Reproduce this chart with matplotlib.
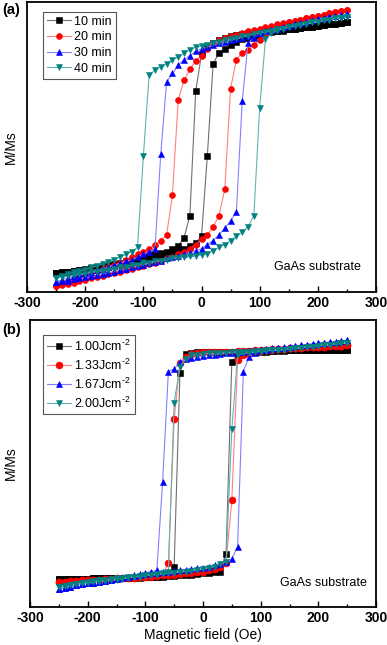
import matplotlib
matplotlib.use("Agg")
import matplotlib.pyplot as plt

plt.rcParams["font.family"] = ["Liberation Sans", "DejaVu Sans"]
plt.rcParams["mathtext.fontset"] = "custom"
plt.rcParams["mathtext.rm"] = "Liberation Sans"
plt.rcParams["mathtext.default"] = "regular"

# field grid of the measurement (Oe)
FIELD_UP = list(range(-250, 251, 10))
FIELD_DOWN = FIELD_UP[::-1]

# ---- panel (a): deposition time ----
LABELS_A = ["10 min", "20 min", "30 min", "40 min"]
# descending branch, listed from +250 to -250 Oe
A10_DOWN = [0.91, 0.905, 0.90, 0.895, 0.89, 0.885, 0.88, 0.875, 0.87, 0.865,
            0.86, 0.855, 0.85, 0.845, 0.84, 0.84, 0.835, 0.83, 0.825, 0.82,
            0.81, 0.80, 0.78, 0.76, 0.73, 0.68, 0.41, -0.49, -0.65, -0.71,
            -0.73, -0.75, -0.76, -0.765, -0.775, -0.785, -0.80, -0.81, -0.82, -0.83,
            -0.84, -0.85, -0.855, -0.86, -0.87, -0.875, -0.88, -0.89, -0.895, -0.90,
            -0.905]
# ascending branch, listed from -250 to +250 Oe
A10_UP = [-0.905, -0.90, -0.895, -0.89, -0.885, -0.88, -0.875, -0.87, -0.865, -0.86,
          -0.855, -0.85, -0.845, -0.84, -0.835, -0.83, -0.82, -0.81, -0.795, -0.78,
          -0.765, -0.75, -0.73, -0.71, -0.685, -0.64, -0.06, 0.61, 0.69, 0.72,
          0.75, 0.77, 0.79, 0.80, 0.81, 0.82, 0.83, 0.84, 0.845, 0.85,
          0.86, 0.865, 0.87, 0.875, 0.88, 0.885, 0.89, 0.895, 0.90, 0.905,
          0.91]
A20_DOWN = [1.00, 0.99, 0.985, 0.975, 0.965, 0.955, 0.95, 0.94, 0.93, 0.92,
            0.915, 0.905, 0.895, 0.885, 0.875, 0.865, 0.855, 0.845, 0.835, 0.82,
            0.81, 0.795, 0.78, 0.76, 0.72, 0.67, 0.63, 0.57, 0.49, 0.35,
            -0.34, -0.63, -0.67, -0.70, -0.73, -0.75, -0.77, -0.79, -0.81, -0.83,
            -0.845, -0.86, -0.875, -0.89, -0.90, -0.915, -0.93, -0.945, -0.96, -0.98,
            -1.00]
A20_UP = [-1.00, -0.99, -0.985, -0.975, -0.965, -0.955, -0.945, -0.935, -0.925, -0.915,
          -0.905, -0.895, -0.885, -0.875, -0.865, -0.855, -0.84, -0.83, -0.82, -0.80,
          -0.79, -0.77, -0.755, -0.73, -0.70, -0.66, -0.63, -0.57, -0.49, -0.30,
          0.43, 0.64, 0.69, 0.71, 0.75, 0.78, 0.82, 0.85, 0.88, 0.90,
          0.915, 0.92, 0.93, 0.94, 0.95, 0.955, 0.965, 0.975, 0.985, 0.99,
          1.00]
A30_DOWN = [0.97, 0.965, 0.955, 0.95, 0.94, 0.935, 0.925, 0.915, 0.905, 0.895,
            0.885, 0.875, 0.865, 0.855, 0.845, 0.835, 0.825, 0.815, 0.80, 0.79,
            0.78, 0.77, 0.76, 0.745, 0.73, 0.72, 0.70, 0.67, 0.64, 0.60,
            0.54, 0.48, -0.04, -0.73, -0.75, -0.77, -0.79, -0.81, -0.82, -0.835,
            -0.85, -0.86, -0.875, -0.885, -0.895, -0.905, -0.915, -0.93, -0.94, -0.955,
            -0.97]
A30_UP = [-0.97, -0.965, -0.96, -0.95, -0.945, -0.935, -0.93, -0.92, -0.91, -0.905,
          -0.895, -0.885, -0.875, -0.865, -0.855, -0.845, -0.835, -0.825, -0.815, -0.80,
          -0.79, -0.78, -0.77, -0.76, -0.745, -0.73, -0.70, -0.67, -0.63, -0.58,
          -0.53, -0.46, 0.34, 0.76, 0.80, 0.83, 0.845, 0.855, 0.865, 0.875,
          0.885, 0.895, 0.905, 0.915, 0.925, 0.935, 0.94, 0.95, 0.955, 0.965,
          0.97]
A40_DOWN = [0.95, 0.945, 0.94, 0.93, 0.925, 0.915, 0.91, 0.90, 0.89, 0.885,
            0.875, 0.865, 0.86, 0.85, 0.84, 0.835, 0.825, 0.815, 0.81, 0.80,
            0.79, 0.78, 0.77, 0.76, 0.75, 0.74, 0.73, 0.71, 0.69, 0.66,
            0.64, 0.61, 0.59, 0.565, 0.53, -0.06, -0.72, -0.75, -0.77, -0.79,
            -0.81, -0.825, -0.84, -0.855, -0.865, -0.88, -0.89, -0.90, -0.915, -0.925,
            -0.94]
A40_UP = [-0.94, -0.935, -0.93, -0.92, -0.915, -0.91, -0.90, -0.895, -0.89, -0.88,
          -0.875, -0.865, -0.86, -0.85, -0.845, -0.835, -0.83, -0.82, -0.815, -0.81,
          -0.80, -0.795, -0.79, -0.785, -0.78, -0.775, -0.765, -0.745, -0.72, -0.70,
          -0.67, -0.64, -0.61, -0.57, -0.49, 0.29, 0.79, 0.83, 0.85, 0.865,
          0.875, 0.885, 0.89, 0.90, 0.91, 0.915, 0.925, 0.93, 0.94, 0.945,
          0.95]

# ---- panel (b): laser fluence ----
LABELS_B = [r"1.00Jcm$^{\text{-2}}$", r"1.33Jcm$^{\text{-2}}$",
            r"1.67Jcm$^{\text{-2}}$", r"2.00Jcm$^{\text{-2}}$"]
B100_DOWN = [0.91, 0.91, 0.91, 0.91, 0.91, 0.91, 0.91, 0.91, 0.91, 0.91,
             0.91, 0.91, 0.91, 0.905, 0.905, 0.905, 0.905, 0.905, 0.90, 0.90,
             0.90, 0.90, 0.90, 0.90, 0.90, 0.90, 0.895, 0.89, 0.88, 0.73,
             -0.82, -0.89, -0.895, -0.90, -0.90, -0.905, -0.905, -0.91, -0.91, -0.91,
             -0.91, -0.915, -0.915, -0.915, -0.915, -0.92, -0.92, -0.92, -0.92, -0.92,
             -0.92]
B100_UP = [-0.92, -0.92, -0.92, -0.92, -0.92, -0.92, -0.915, -0.915, -0.915, -0.915,
           -0.915, -0.91, -0.91, -0.91, -0.91, -0.905, -0.905, -0.90, -0.90, -0.895,
           -0.895, -0.89, -0.89, -0.885, -0.88, -0.875, -0.87, -0.865, -0.86, -0.72,
           0.82, 0.87, 0.88, 0.89, 0.895, 0.90, 0.90, 0.905, 0.905, 0.905,
           0.91, 0.91, 0.91, 0.91, 0.91, 0.91, 0.91, 0.91, 0.91, 0.91,
           0.91]
B133_DOWN = [0.95, 0.948, 0.945, 0.943, 0.94, 0.938, 0.935, 0.933, 0.93, 0.928,
             0.925, 0.923, 0.92, 0.918, 0.915, 0.913, 0.91, 0.908, 0.905, 0.903,
             0.90, 0.90, 0.90, 0.90, 0.90, 0.90, 0.89, 0.88, 0.86, 0.81,
             0.36, -0.79, -0.88, -0.89, -0.895, -0.90, -0.905, -0.91, -0.91, -0.915,
             -0.915, -0.92, -0.92, -0.925, -0.925, -0.93, -0.93, -0.935, -0.935, -0.94,
             -0.94]
B133_UP = [-0.94, -0.94, -0.935, -0.935, -0.93, -0.93, -0.925, -0.925, -0.92, -0.92,
           -0.915, -0.915, -0.91, -0.91, -0.905, -0.90, -0.90, -0.895, -0.89, -0.89,
           -0.885, -0.88, -0.875, -0.87, -0.865, -0.86, -0.85, -0.84, -0.82, -0.79,
           -0.29, 0.83, 0.87, 0.89, 0.90, 0.905, 0.91, 0.915, 0.918, 0.92,
           0.925, 0.928, 0.93, 0.933, 0.935, 0.938, 0.94, 0.943, 0.945, 0.948,
           0.95]
B167_DOWN = [0.99, 0.985, 0.98, 0.975, 0.97, 0.965, 0.96, 0.955, 0.95, 0.945,
             0.94, 0.935, 0.93, 0.925, 0.92, 0.915, 0.91, 0.905, 0.90, 0.895,
             0.89, 0.885, 0.88, 0.875, 0.87, 0.865, 0.86, 0.85, 0.84, 0.82,
             0.76, 0.74, -0.14, -0.85, -0.86, -0.87, -0.88, -0.89, -0.90, -0.91,
             -0.92, -0.93, -0.935, -0.94, -0.95, -0.955, -0.96, -0.97, -0.98, -0.99,
             -1.00]
B167_UP = [-1.00, -0.99, -0.98, -0.97, -0.96, -0.955, -0.95, -0.94, -0.935, -0.93,
           -0.92, -0.91, -0.90, -0.895, -0.885, -0.88, -0.875, -0.87, -0.865, -0.86,
           -0.855, -0.85, -0.845, -0.84, -0.835, -0.83, -0.82, -0.81, -0.80, -0.78,
           -0.76, -0.66, 0.74, 0.86, 0.89, 0.91, 0.915, 0.92, 0.925, 0.93,
           0.94, 0.945, 0.95, 0.955, 0.96, 0.965, 0.97, 0.975, 0.98, 0.985,
           0.99]
B200_DOWN = [0.97, 0.965, 0.96, 0.955, 0.95, 0.945, 0.94, 0.935, 0.93, 0.925,
             0.92, 0.915, 0.915, 0.91, 0.91, 0.905, 0.905, 0.90, 0.90, 0.895,
             0.895, 0.89, 0.89, 0.885, 0.885, 0.88, 0.875, 0.87, 0.84, 0.78,
             0.49, -0.86, -0.87, -0.88, -0.885, -0.89, -0.895, -0.90, -0.905, -0.91,
             -0.915, -0.92, -0.925, -0.93, -0.935, -0.94, -0.95, -0.96, -0.97, -0.975,
             -0.98]
B200_UP = [-0.98, -0.975, -0.97, -0.96, -0.955, -0.95, -0.945, -0.94, -0.935, -0.93,
           -0.925, -0.92, -0.91, -0.905, -0.90, -0.895, -0.89, -0.885, -0.88, -0.875,
           -0.87, -0.865, -0.86, -0.855, -0.85, -0.84, -0.83, -0.82, -0.80, -0.78,
           0.28, 0.87, 0.885, 0.89, 0.895, 0.90, 0.905, 0.91, 0.91, 0.915,
           0.92, 0.925, 0.93, 0.935, 0.94, 0.945, 0.95, 0.955, 0.96, 0.965,
           0.97]

XTICKS = [-300, -200, -100, 0, 100, 200, 300]
XMINOR = [-250, -150, -50, 50, 150, 250]

MARKERS = ["s", "o", "^", "v"]
MARKER_COLORS = ["#000000", "#ff0000", "#0000ff", "#008080"]
LINE_COLORS = ["#707070", "#ff8080", "#8080ff", "#5fb5b5"]


def draw_loops(ax, downs, ups, labels, ms):
    for i in range(4):
        x = FIELD_DOWN + FIELD_UP
        y = downs[i] + ups[i]
        ax.plot(x, y, color=LINE_COLORS[i], lw=0.8, marker=MARKERS[i], ms=ms,
                mfc=MARKER_COLORS[i], mec=MARKER_COLORS[i], mew=0.4,
                label=labels[i])


def style_axes(ax, ylim, leg_anchor, text_xy, ylab_x):
    ax.set_xlim(-300, 300)
    ax.set_ylim(*ylim)
    ax.set_xticks(XTICKS)
    ax.set_xticks(XMINOR, minor=True)
    ax.set_xticklabels([str(t) for t in XTICKS], fontsize=10, fontweight="bold")
    ax.set_yticks([])
    ax.tick_params(axis="x", which="major", direction="in", length=4, width=1, pad=3)
    ax.tick_params(axis="x", which="minor", direction="in", length=2.5, width=1)
    for sp in ax.spines.values():
        sp.set_linewidth(1.3)
    ax.set_ylabel("M/Ms", fontsize=10)
    ax.yaxis.set_label_coords(ylab_x, 0.5)
    leg = ax.legend(loc="upper left", bbox_to_anchor=leg_anchor, borderaxespad=0,
                    fontsize=9, fancybox=False, edgecolor="#555555", framealpha=1,
                    borderpad=0.3, handlelength=1.9, handletextpad=0.3,
                    labelspacing=0.3)
    leg.get_frame().set_linewidth(0.8)
    ax.text(text_xy[0], text_xy[1], "GaAs substrate", transform=ax.transAxes,
            ha="right", va="center", fontsize=9)


fig = plt.figure(figsize=(3.87, 6.45), dpi=100)
ax_a = fig.add_axes([27 / 387, 1 - 292 / 645, 349 / 387, 290 / 645])
ax_b = fig.add_axes([30 / 387, 1 - 607 / 645, 346 / 387, 287 / 645])

draw_loops(ax_a, [A10_DOWN, A20_DOWN, A30_DOWN, A40_DOWN],
           [A10_UP, A20_UP, A30_UP, A40_UP], LABELS_A, 4.3)
style_axes(ax_a, (-1.043, 1.058), (0.046, 0.966), (0.957, 0.086), -0.025)

draw_loops(ax_b, [B100_DOWN, B133_DOWN, B167_DOWN, B200_DOWN],
           [B100_UP, B133_UP, B167_UP, B200_UP], LABELS_B, 5)
style_axes(ax_b, (-1.144, 1.152), (0.038, 0.948), (0.974, 0.085), -0.034)
ax_b.set_xlabel("Magnetic field (Oe)", fontsize=10, labelpad=2)

fig.text(2 / 387, 1 - 10 / 645, "(a)", fontsize=10.5, fontweight="bold", va="center")
fig.text(2 / 387, 1 - 330 / 645, "(b)", fontsize=10.5, fontweight="bold", va="center")

fig.savefig("out.png", dpi=100)
